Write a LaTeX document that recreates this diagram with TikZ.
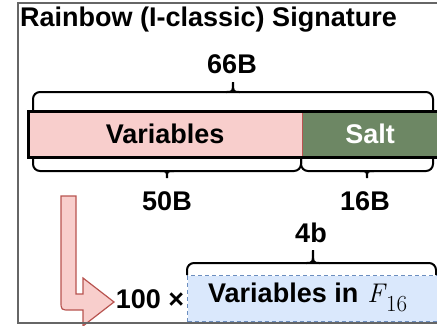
\RequirePackage{fix-cm}
\documentclass[tikz,border=0pt]{standalone}
\usepackage[no-math]{fontspec}
\setmainfont{Liberation Sans}
\newfontfamily\lmrfam{Latin Modern Roman}
\definecolor{pinkf}{HTML}{F8CECC}
\definecolor{pinkd}{HTML}{B85450}
\definecolor{greenf}{HTML}{6D8764}
\definecolor{bluef}{HTML}{DAE8FC}
\definecolor{blued}{HTML}{6C8EBF}
\definecolor{framec}{HTML}{666666}
\tikzset{
  lbl/.style={font=\bfseries\fontsize{27}{31}\selectfont, inner sep=0pt},
  brc/.style={draw=black, line width=2pt},
}
\newcommand{\bracepath}[6]{%
  \draw[brc, rounded corners=7pt] (#1,#4) -- (#1,#5) -- (#2,#5) -- (#2,#4);
  \draw[brc] ({#3-7},#5) .. controls (#3,#5) .. (#3,#6) .. controls (#3,#5) .. ({#3+7},#5);
}
\begin{document}
\begin{tikzpicture}[x=1pt,y=-1pt]
\useasboundingbox (0,0) rectangle (437,325);
\clip (0,0) rectangle (437,325);
\node[lbl, anchor=base west] (title) at (20,26) {Rainbow (I-classic) Signature};
\node[lbl, anchor=base] (l66) at (232,73) {66B};
\node[lbl, fill=pinkf, minimum width=274pt, minimum height=46pt, anchor=north west] (vars) at (28,111) {Variables};
\node[lbl, fill=greenf, text=white, minimum width=136pt, minimum height=46pt, anchor=north west] (salt) at (302,111) {Salt};
\draw[pinkd, line width=1pt] (vars.north east) -- (vars.south east);
\draw[line width=3pt] (vars.north west) rectangle (salt.south east);
\bracepath{33}{433}{233}{110}{92}{82}
\bracepath{33}{301}{167}{157}{171}{178}
\bracepath{301}{433}{367}{157}{171}{178}
\node[lbl, anchor=base] (l50) at (167,210) {50B};
\node[lbl, anchor=base] (l16) at (365,210) {16B};
\node[draw=blued, dash pattern=on 4pt off 3pt, line width=1pt, fill=bluef, minimum width=250pt, minimum height=46pt, anchor=north west, inner sep=0pt] (vin) at (187,275) {};
\node[lbl, anchor=base west] (vintxt) at (208,302) {Variables in\hspace{9pt}{\lmrfam\mdseries\itshape\fontsize{27}{30}\selectfont F}\hspace{1.5pt}\raisebox{-9pt}{\lmrfam\mdseries\fontsize{23}{28}\selectfont 16}};
\bracepath{187}{436}{313}{275}{263}{250}
\node[lbl, anchor=base] (l4) at (311,242) {4b};
\node[lbl, anchor=base] (times) at (150,308) {100 ×};
\draw[pinkd, fill=pinkf, line width=1.2pt, line join=miter]
  (61,196) -- (76,196) -- (76,294) -- (83,294) -- (83,278) -- (114,302) -- (83,326) -- (83,310)
  -- (70,310) .. controls (61,310) .. (61,301) -- cycle;
\draw[framec, line width=1.5pt] (445,3) -- (18,3) -- (18,323) -- (445,323);
\end{tikzpicture}
\end{document}
